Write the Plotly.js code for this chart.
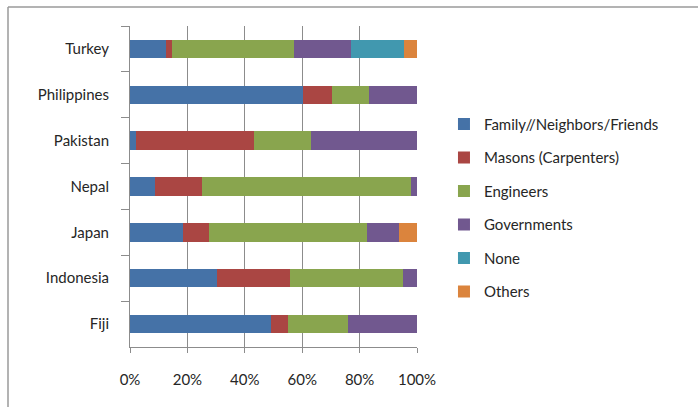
<!DOCTYPE html>
<html>
<head>
<meta charset="utf-8">
<script src="https://cdn.plot.ly/plotly-3.0.1.min.js"></script>
<style>html,body{margin:0;padding:0;background:#fff;}#chart{width:698px;height:407px;}</style>
</head>
<body>
<div id="chart"></div>
<script>
const countries = ['Turkey', 'Philippines', 'Pakistan', 'Nepal', 'Japan', 'Indonesia', 'Fiji'];
const seriesNames = ['Family//Neighbors/Friends', 'Masons (Carpenters)', 'Engineers', 'Governments', 'None', 'Others'];
const family      = [12.6, 60.2,  2.0,  8.8, 18.6, 30.3, 49.0];
const masons      = [ 2.1, 10.3, 41.1, 16.2,  8.8, 25.4,  6.2];
const engineers   = [42.6, 12.8, 20.0, 73.0, 55.3, 39.4, 20.7];
const governments = [19.8, 16.7, 36.9,  2.0, 11.1,  4.9, 24.1];
const none        = [18.4,  0,    0,    0,    0,    0,    0  ];
const others      = [ 4.5,  0,    0,    0,    6.2,  0,    0  ];
const colors = ['#4572A7', '#AA4643', '#89A54E', '#71588F', '#4198AF', '#DB843D'];
const tickVals = [0, 20, 40, 60, 80, 100];
const tickText = ['0%', '20%', '40%', '60%', '80%', '100%'];

const allSeries = [family, masons, engineers, governments, none, others];
const traces = allSeries.map((vals, i) => ({
  type: 'bar',
  orientation: 'h',
  name: seriesNames[i],
  y: countries,
  x: vals,
  legendgroup: 'g' + i,
  marker: {color: colors[i], line: {width: 0}},
  hoverinfo: 'skip'
}));

const fontFam = 'Lato, "Open Sans", sans-serif';
const layout = {
  width: 698, height: 407,
  margin: {l: 130, r: 281, t: 26, b: 60, pad: 0},
  paper_bgcolor: '#ffffff', plot_bgcolor: '#ffffff',
  barmode: 'stack',
  bargap: 0.6,
  showlegend: true,
  font: {family: fontFam, size: 15, color: '#262626'},
  xaxis: {
    range: [0, 100],
    tickvals: tickVals, ticktext: tickText,
    showgrid: true, gridcolor: '#8c8c8c', gridwidth: 1,
    showline: true, linecolor: '#8c8c8c', linewidth: 1,
    ticks: 'outside', ticklen: 5, tickcolor: '#8c8c8c',
    ticklabelstandoff: 14,
    zeroline: false, fixedrange: true
  },
  yaxis: {
    autorange: 'reversed',
    type: 'category',
    showgrid: false,
    showline: true, linecolor: '#8c8c8c', linewidth: 1,
    ticks: 'outside', ticklen: 8, tickcolor: '#8c8c8c',
    tickson: 'boundaries',
    ticklabelstandoff: 17,
    zeroline: false, fixedrange: true
  },
  legend: {
    x: 1.094, xanchor: 'left',
    y: 0.745, yanchor: 'top',
    traceorder: 'grouped',
    tracegroupgap: 11,
    font: {family: fontFam, size: 15, color: '#262626'},
    bgcolor: 'rgba(0,0,0,0)'
  },
  shapes: [
    {type: 'line', xref: 'paper', yref: 'paper', x0: (8-130)/287, x1: (700-130)/287, y0: (347-7)/321, y1: (347-7)/321, line: {color: '#9a9a9a', width: 1.5}},
    {type: 'line', xref: 'paper', yref: 'paper', x0: (8-130)/287, x1: (8-130)/287, y0: (347-7)/321, y1: (347-410)/321, line: {color: '#9a9a9a', width: 1.5}}
  ]
};

Plotly.newPlot('chart', traces, layout, {displayModeBar: false, staticPlot: true});
</script>
</body>
</html>
